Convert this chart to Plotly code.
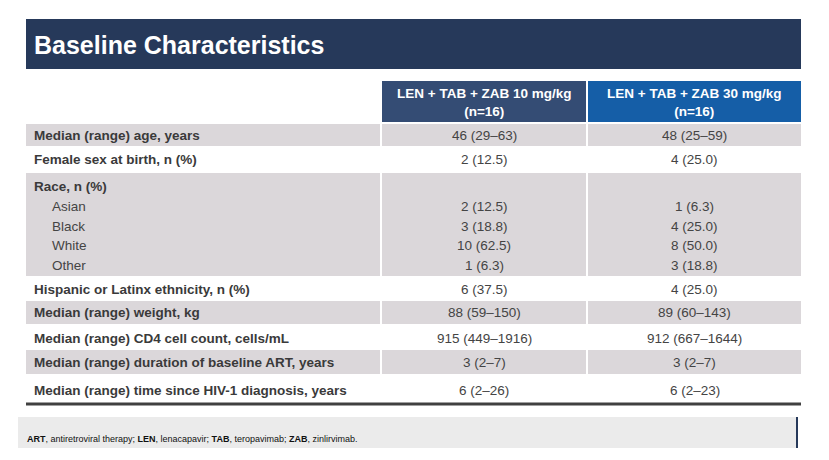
import plotly.graph_objects as go

# ---------------- data ----------------
title = "Baseline Characteristics"
col_headers = ["LEN + TAB + ZAB 10 mg/kg<br>(n=16)", "LEN + TAB + ZAB 30 mg/kg<br>(n=16)"]
row_labels = [
    "Median (range) age, years",
    "Female sex at birth, n (%)",
    "Race, n (%)",
    "Hispanic or Latinx ethnicity, n (%)",
    "Median (range) weight, kg",
    "Median (range) CD4 cell count, cells/mL",
    "Median (range) duration of baseline ART, years",
    "Median (range) time since HIV-1 diagnosis, years",
]
race_categories = ["Asian", "Black", "White", "Other"]
values_10mg = ["46 (29–63)", "2 (12.5)", ["2 (12.5)", "3 (18.8)", "10 (62.5)", "1 (6.3)"],
               "6 (37.5)", "88 (59–150)", "915 (449–1916)", "3 (2–7)", "6 (2–26)"]
values_30mg = ["48 (25–59)", "4 (25.0)", ["1 (6.3)", "4 (25.0)", "8 (50.0)", "3 (18.8)"],
               "4 (25.0)", "89 (60–143)", "912 (667–1644)", "3 (2–7)", "6 (2–23)"]
footnote = ("<b>ART</b>, antiretroviral therapy; <b>LEN</b>, lenacapavir; "
            "<b>TAB</b>, teropavimab; <b>ZAB</b>, zinlirvimab.")

# ---------------- layout geometry / style ----------------
W, H = 829, 460
OFF = 8  # page body margin
FONT = "Liberation Sans, Arial, sans-serif"
FS = 13.5
col_x = [(26, 380), (382, 586), (588, 801)]
row_bounds = [(124, 146), (147, 172), (173, 276), (277, 300), (301, 324),
              (325, 349), (350, 374), (375, 402)]
row_text_y = [135, 159, 186, 289, 312, 338, 362, 390]
race_sub_y = [206, 226, 245, 265]
GRAY = "#DBD7DA"
LABEL_C = "#3A3A3A"
VAL_C = "#444444"
header_colors = ["#344C74", "#155EA7"]

fig = go.Figure()
shapes = []
ann = []

# title banner
shapes.append(dict(type="rect", x0=26, x1=801, y0=19, y1=69, fillcolor="#26395A", line_width=0, layer="below"))
ann.append(dict(x=32, y=45, text=f"<b>{title}</b>", xanchor="left", yanchor="middle", showarrow=False,
                font=dict(family=FONT, size=25, color="white")))

# header cells
for i, hdr in enumerate(col_headers):
    x0, x1 = col_x[i + 1]
    shapes.append(dict(type="rect", x0=x0, x1=x1, y0=81, y1=122, fillcolor=header_colors[i], line_width=0, layer="below"))
    ann.append(dict(x=(x0 + x1) / 2, y=102, text=f"<b>{hdr}</b>", xanchor="center", yanchor="middle",
                    showarrow=False, font=dict(family=FONT, size=FS, color="white")))

# body rows
for r, label in enumerate(row_labels):
    y0, y1 = row_bounds[r]
    if r % 2 == 0:
        for (x0, x1) in col_x:
            shapes.append(dict(type="rect", x0=x0, x1=x1, y0=y0, y1=y1, fillcolor=GRAY, line_width=0, layer="below"))
    ann.append(dict(x=32, y=row_text_y[r], text=f"<b>{label}</b>", xanchor="left", yanchor="middle",
                    showarrow=False, font=dict(family=FONT, size=FS, color=LABEL_C)))
    for c, vals in enumerate([values_10mg, values_30mg]):
        x0, x1 = col_x[c + 1]
        v = vals[r]
        if isinstance(v, list):
            for k, sub in enumerate(v):
                ann.append(dict(x=(x0 + x1) / 2, y=race_sub_y[k], text=sub, xanchor="center", yanchor="middle",
                                showarrow=False, font=dict(family=FONT, size=FS, color=VAL_C)))
        else:
            ann.append(dict(x=(x0 + x1) / 2, y=row_text_y[r], text=v, xanchor="center", yanchor="middle",
                            showarrow=False, font=dict(family=FONT, size=FS, color=VAL_C)))
    if isinstance(values_10mg[r], list):
        for k, cat in enumerate(race_categories):
            ann.append(dict(x=50, y=race_sub_y[k], text=cat, xanchor="left", yanchor="middle",
                            showarrow=False, font=dict(family=FONT, size=FS, color=VAL_C)))

# bottom rule
shapes.append(dict(type="line", x0=26, x1=801, y0=404, y1=404, line=dict(color="#404040", width=3)))

# footnote band
shapes.append(dict(type="rect", x0=18, x1=796, y0=417, y1=448, fillcolor="#EBEBEB", line_width=0, layer="below"))
shapes.append(dict(type="line", x0=797, x1=797, y0=417, y1=448, line=dict(color="#26395A", width=2)))
ann.append(dict(x=25, y=439, text=footnote, xanchor="left", yanchor="middle", showarrow=False,
                font=dict(family=FONT, size=9, color="#111111")))

fig.update_layout(
    width=W - OFF, height=H - OFF, autosize=False,
    margin=dict(l=0, r=0, t=0, b=0),
    paper_bgcolor="white", plot_bgcolor="white",
    xaxis=dict(range=[OFF, W], visible=False, fixedrange=True),
    yaxis=dict(range=[H, OFF], visible=False, fixedrange=True),
    shapes=shapes, annotations=ann, showlegend=False,
)
fig.write_html("out.html")
